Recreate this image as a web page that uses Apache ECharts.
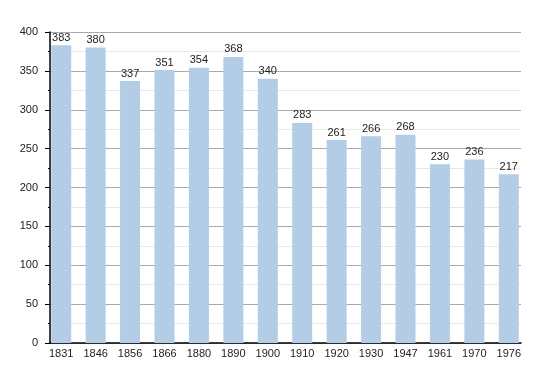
<!DOCTYPE html>
<html><head><meta charset="utf-8">
<script src="https://cdn.jsdelivr.net/npm/echarts@6/dist/echarts.min.js"></script>
<style>html,body{margin:0;padding:0;background:#fff}#c{width:550px;height:373px}</style>
</head><body><div id="c"></div>
<script>
var years = ['1831','1846','1856','1866','1880','1890','1900','1910','1920','1930','1947','1961','1970','1976'];
var population = [383,380,337,351,354,368,340,283,261,266,268,230,236,217];
var yMin = 0, yMax = 400, yStep = 50;

var chart = echarts.init(document.getElementById('c'), null, {renderer:'canvas'});
var font = 'Liberation Sans, Arial, sans-serif';
chart.setOption({
  animation:false,
  grid:[
    {left:50, right:29, top:32, bottom:30},
    {left:44, right:24, top:32, bottom:30}
  ],
  xAxis:[
    {type:'category', gridIndex:0, data:years, axisLabel:{show:false}, axisTick:{show:false},
     axisLine:{lineStyle:{color:'#000', width:1.5}}},
    {type:'category', gridIndex:1, data:years, axisLine:{show:false}, axisTick:{show:false},
     axisLabel:{color:'#222', fontFamily:font, fontSize:11, margin:5}}
  ],
  yAxis:[
    {type:'value', gridIndex:0, min:yMin, max:yMax, interval:yStep,
     axisLine:{show:true, lineStyle:{color:'#000', width:1.5}},
     axisTick:{show:true, length:5, lineStyle:{color:'#000'}},
     minorTick:{show:true, splitNumber:2, length:2, lineStyle:{color:'#000'}},
     axisLabel:{color:'#222', fontFamily:font, fontSize:11, margin:12},
     splitLine:{show:true, lineStyle:{color:'#aaaaaa', width:1}},
     minorSplitLine:{show:true, lineStyle:{color:'#e8e8e8', width:1}}},
    {type:'value', gridIndex:1, min:yMin, max:yMax, interval:yStep, show:false, splitLine:{show:false}}
  ],
  series:[{
    type:'bar', xAxisIndex:1, yAxisIndex:1, data:population, barWidth:20,
    itemStyle:{color:'#b3cde6'},
    label:{show:true, position:'top', distance:2, color:'#222', fontFamily:font, fontSize:11}
  }]
});
</script></body></html>
